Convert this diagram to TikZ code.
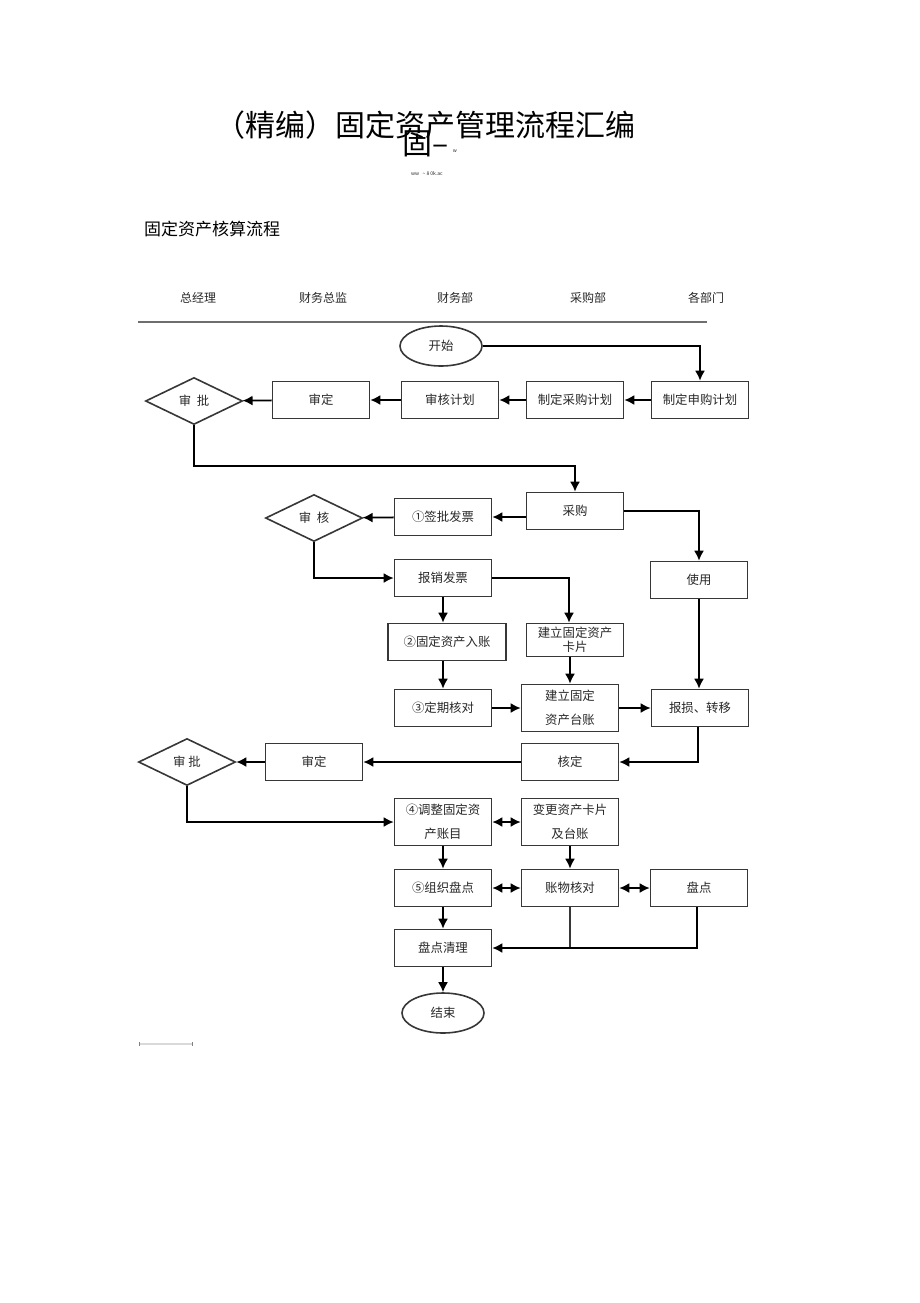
\documentclass[tikz,border=0pt]{standalone}
\usepackage{fontspec}
\setmainfont{Noto Sans CJK SC}
\usepackage{tikz}
\usetikzlibrary{arrows.meta,positioning,shapes.geometric}
\definecolor{edge}{RGB}{55,55,55}
\definecolor{ink}{RGB}{40,40,40}
\definecolor{rule}{RGB}{110,110,110}

\begin{document}
\begin{tikzpicture}[x=0.5pt,y=-0.5pt,
  box/.style={draw=edge,line width=0.8pt,fill=white,align=center,text=ink,
              font=\fontsize{6.2}{9}\selectfont,minimum width=48.5pt,minimum height=18.5pt,inner sep=1pt},
  tall/.style={box,minimum height=23.5pt,font=\fontsize{6.2}{12}\selectfont},
  dia/.style={draw=edge,line width=0.8pt,diamond,inner sep=0pt,minimum width=48.5pt,
              minimum height=23.5pt,text=ink,font=\fontsize{6.2}{8}\selectfont},
  oval/.style={draw=edge,line width=0.8pt,ellipse,inner sep=0pt,minimum width=41pt,
               minimum height=20pt,text=ink,font=\fontsize{6.2}{8}\selectfont},
  lane/.style={text=ink,font=\fontsize{6}{8}\selectfont},
  a/.style={-{Latex[length=5pt,width=5pt]},line width=0.9pt,black},
  da/.style={{Latex[length=5pt,width=5pt]}-{Latex[length=5pt,width=5pt]},line width=0.9pt,black},
  l/.style={line width=0.6pt,edge}]
 \useasboundingbox (0,0) rectangle (920,1303);
 % title
 \node[font=\fontsize{15}{15}\selectfont,text=black] (t1) at (425,125) {（精编）固定资产管理流程汇编};
 \node[font=\fontsize{15}{15}\selectfont,text=black] (t2) at (426,144) {固–};
 \node[font=\fontsize{2.5}{3}\selectfont,text=ink] (t3) at (455,151) {w};
 \node[font=\fontsize{2.5}{3}\selectfont,text=ink] (t4) at (427,174) {ww \ \ \textasciitilde\ 8 0k.ac};
 \node[anchor=west,font=\fontsize{8.5}{10}\selectfont,text=black] (sub) at (137,229) {固定资产核算流程};
 % lanes
 \node[lane] (h1) at (198,298) {总经理};
 \node[lane] (h2) at (323,298) {财务总监};
 \node[lane] (h3) at (455,298) {财务部};
 \node[lane] (h4) at (588,298) {采购部};
 \node[lane] (h5) at (706,298) {各部门};
 \draw[rule,line width=1pt] (138,322) -- (707,322);

 \node[oval] (start) at (441,346) {开始};
 \node[box] (p1) at (700,400) {制定申购计划};
 \node[box] (p2) at (575,400) {制定采购计划};
 \node[box] (p3) at (450,400) {审核计划};
 \node[box] (p4) at (321,400) {审定};
 \node[dia] (d1) at (194,401) {审\ \ 批};

 \node[box] (buy) at (575,511) {采购};
 \node[box] (inv) at (443,517) {①签批发票};
 \node[dia] (d2) at (314,518) {审\ \ 核};
 \node[box] (reim) at (443,578) {报销发票};
 \node[box] (use) at (699,580) {使用};
 \node[box,minimum width=59pt] (acc) at (447,642) {②固定资产入账};
 \node[box,minimum height=16.5pt,font=\fontsize{6.2}{7}\selectfont] (card) at (575,640) {建立固定资产\\卡片};
 \node[box] (chk) at (443,708) {③定期核对};
 \node[tall] (ledg) at (570,708) {建立固定\\资产台账};
 \node[box] (scrap) at (700,708) {报损、转移};

 \node[box] (appr) at (570,762) {核定};
 \node[box] (conf) at (314,762) {审定};
 \node[dia] (d3) at (187,762) {审\ 批};
 \node[tall] (adj) at (443,822) {④调整固定资\\产账目};
 \node[tall] (chg) at (570,822) {变更资产卡片\\及台账};
 \node[box] (org) at (443,888) {⑤组织盘点};
 \node[box] (comp) at (570,888) {账物核对};
 \node[box] (cnt) at (699,888) {盘点};
 \node[box] (clr) at (443,948) {盘点清理};
 \node[oval] (end) at (443,1013) {结束};

 \draw[a] (start) -| (p1);
 \draw[a] (p1) -- (p2); \draw[a] (p2) -- (p3); \draw[a] (p3) -- (p4); \draw[a] (p4) -- (d1);
 \draw[a] (d1.south) -- ++(0,41) -| (buy.north);
 \draw[a] (buy.west |- inv) -- (inv); \draw[a] (inv) -- (d2);
 \draw[a] (buy.east) -| (use.north);
 \draw[a] (d2.south) |- (reim.west);
 \draw[a] (reim.east) -| ([xshift=-3pt]card.north);
 \draw[a] (reim) -- (reim |- acc.north);
 \draw[a] (acc.south -| chk) -- (chk);
 \draw[a] (ledg |- card.south) -- (ledg);
 \draw[a] (chk) -- (ledg); \draw[a] (ledg) -- (scrap);
 \draw[a] (use) -- (use |- scrap.north);
 \draw[a] ([xshift=-1pt]scrap.south) |- (appr.east);
 \draw[a] (appr) -- (conf); \draw[a] (conf) -- (d3);
 \draw[a] (d3.south) |- (adj.west);
 \draw[da] (adj) -- (chg);
 \draw[a] (adj) -- (org); \draw[a] (chg) -- (comp);
 \draw[da] (org) -- (comp); \draw[da] (comp) -- (cnt);
 \draw[a] (org) -- (clr);
 \draw[l] (comp.south) -- (comp |- clr);
 \draw[a] ([xshift=-1pt]cnt.south) |- (clr.east);
 \draw[a] (clr) -- (end);

 \draw[black!15,line width=1pt] (139,1044) -- (192,1044);
 \draw[black!50,line width=0.5pt] (139,1042) -- (139,1046) (192,1042) -- (192,1046);
\end{tikzpicture}
\end{document}
